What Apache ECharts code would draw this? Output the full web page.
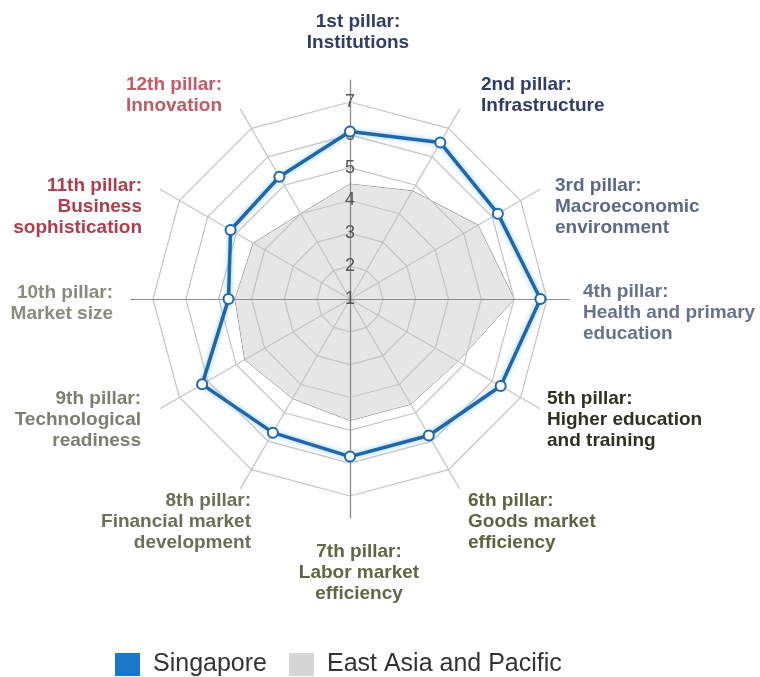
<!DOCTYPE html>
<html>
<head>
<meta charset="utf-8">
<title>Singapore vs East Asia and Pacific</title>
<script src="https://cdn.jsdelivr.net/npm/echarts@6/dist/echarts.min.js"></script>
<style>
  html, body { margin: 0; padding: 0; background: #fff; }
  #chart { width: 760px; height: 677px; }
</style>
</head>
<body>
<div id="chart"></div>
<script>
// 12 pillars, listed clockwise from the top
const pillars = [
    '1st pillar:\nInstitutions',
    '2nd pillar:\nInfrastructure',
    '3rd pillar:\nMacroeconomic\nenvironment',
    '4th pillar:\nHealth and primary\neducation',
    '5th pillar:\nHigher education\nand training',
    '6th pillar:\nGoods market\nefficiency',
    '7th pillar:\nLabor market\nefficiency',
    '8th pillar:\nFinancial market\ndevelopment',
    '9th pillar:\nTechnological\nreadiness',
    '10th pillar:\nMarket size',
    '11th pillar:\nBusiness\nsophistication',
    '12th pillar:\nInnovation'
];
const singapore = [6.1, 6.5, 6.2, 6.8, 6.3, 5.8, 5.8, 5.7, 6.2, 4.7, 5.2, 5.3];
const eastAsia = [4.5, 4.8, 5.5, 6.0, 4.8, 4.7, 4.7, 4.5, 4.7, 4.5, 4.4, 4.0];
const scaleMin = 1;
const scaleMax = 7;

const pillarColors = ['#2f3d6c', '#2f3d6c', '#5b6888', '#67728e', '#2e3220', '#5a6540',
    '#5f6842', '#6a7058', '#7a8070', '#888b7e', '#b23d4c', '#c45a64'];
// label anchor [x, y, align], text blocks are vertically centred on y
const labelLayout = [
    [358, 32, 'center'], [481, 95, 'left'], [555, 207, 'left'], [583, 313, 'left'],
    [547, 420, 'left'], [468, 522, 'left'], [359, 573, 'center'], [251, 522, 'right'],
    [141, 420, 'right'], [113, 303, 'right'], [142, 207, 'right'], [222, 95, 'right']
];

const center = [350, 299];
const radius = 197;
const fontFamily = '"Liberation Sans", Arial, sans-serif';

// echarts lays radar axes out counter-clockwise, so flip the order after the first one
const order = pillars.map((_, i) => (pillars.length - i) % pillars.length);

const chart = echarts.init(document.getElementById('chart'));

const option = {
    animation: false,
    radar: [
        {
            center: center,
            radius: radius,
            startAngle: 90,
            shape: 'polygon',
            splitNumber: 6,
            z: 2,
            indicator: order.map((i, k) => ({
                name: '',
                min: scaleMin,
                max: scaleMax,
                axisLabel: k === 0 ? {
                    show: true,
                    fontSize: 18,
                    color: '#555',
                    fontFamily: fontFamily,
                    margin: 0,
                    align: 'center',
                    verticalAlign: 'middle'
                } : { show: false }
            })),
            axisName: { show: false },
            axisLine: { show: false },
            splitLine: { lineStyle: { color: '#c4c4c4', width: 1.2 } },
            splitArea: { show: false }
        },
        {
            // spokes run a bit past the outer ring
            center: center,
            radius: 219,
            startAngle: 90,
            z: 2,
            indicator: order.map(() => ({ name: '', min: 0, max: 1 })),
            axisName: { show: false },
            axisLine: { lineStyle: { color: '#c4c4c4', width: 1.2 } },
            splitLine: { show: false },
            splitArea: { show: false }
        },
        {
            center: center,
            radius: 219,
            startAngle: 90,
            z: 2,
            indicator: [0, 1, 2, 3].map(() => ({ name: '', min: 0, max: 1 })),
            axisName: { show: false },
            axisLine: { lineStyle: { color: '#8a8a8a', width: 1.2 } },
            splitLine: { show: false },
            splitArea: { show: false }
        }
    ],
    legend: {
        left: 110,
        top: 647,
        itemWidth: 25,
        itemHeight: 23,
        itemGap: 22,
        icon: 'rect',
        textStyle: { fontSize: 25, color: '#333', fontFamily: fontFamily, padding: [0, 0, 0, 8] },
        data: [
            { name: 'Singapore', itemStyle: { color: '#1b78c8', borderWidth: 0 } },
            { name: 'East Asia and Pacific', itemStyle: { color: '#d6d6d6', borderWidth: 0 } }
        ]
    },
    series: [
        {
            name: 'East Asia and Pacific',
            type: 'radar',
            radarIndex: 0,
            z: 1,
            symbol: 'none',
            itemStyle: { color: '#d6d6d6' },
            lineStyle: { color: '#7a7a7a', width: 1 },
            areaStyle: { color: '#e6e6e6', opacity: 1 },
            data: [{ name: 'East Asia and Pacific', value: order.map(i => eastAsia[i]) }]
        },
        {
            name: 'Singapore',
            type: 'radar',
            radarIndex: 0,
            z: 3,
            symbol: 'emptyCircle',
            symbolSize: 10,
            itemStyle: { color: '#2168ab', borderWidth: 2 },
            lineStyle: {
                color: '#2166a8',
                width: 3.5,
                shadowColor: 'rgba(110, 190, 250, 0.8)',
                shadowBlur: 5
            },
            data: [{ name: 'Singapore', value: order.map(i => singapore[i]) }]
        }
    ],
    graphic: pillars.map((text, i) => ({
        type: 'text',
        x: labelLayout[i][0],
        y: labelLayout[i][1],
        style: {
            text: text,
            fill: pillarColors[i],
            fontSize: 19,
            fontWeight: 'bold',
            fontFamily: fontFamily,
            lineHeight: 21,
            align: labelLayout[i][2],
            verticalAlign: 'middle'
        }
    }))
};

chart.setOption(option);
</script>
</body>
</html>
